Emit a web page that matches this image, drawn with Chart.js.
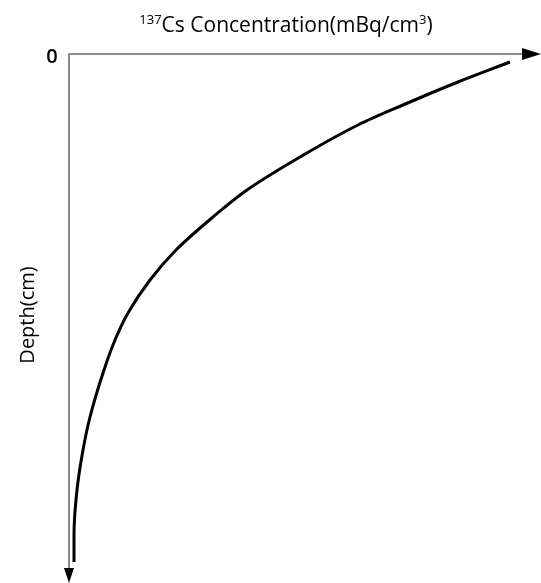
<!DOCTYPE html>
<html>
<head>
<meta charset="utf-8">
<script src="https://cdn.jsdelivr.net/npm/chart.js@4.4.0/dist/chart.umd.min.js"></script>
<style>
  html, body { margin: 0; padding: 0; background: #fff; }
  #wrap { width: 541px; height: 583px; position: relative; }
</style>
</head>
<body>
<div id="wrap"><canvas id="c"></canvas></div>
<script>
// values (arbitrary units, depth grows downward)
const concentration = [441, 389, 334, 289, 231, 178, 144, 107, 81, 59, 46, 35, 21, 14, 8, 5, 5];
const depth = [8, 28, 51, 71, 103, 136, 163, 196, 226, 259, 286, 316, 363, 396, 436, 481, 508];
const originLabel = '0';
const yTitle = 'Depth(cm)';

const xMax = 472;
const yMax = 529;

const points = concentration.map((v, i) => ({ x: v, y: depth[i] }));

const font = '"Open Sans", Lato, sans-serif';

const axesPlugin = {
  id: 'axes',
  afterDraw(chart) {
    const ctx = chart.ctx;
    const a = chart.chartArea;
    ctx.save();

    // axis lines
    ctx.strokeStyle = '#6a6a6a';
    ctx.lineWidth = 1.6;
    ctx.beginPath();
    ctx.moveTo(a.left, a.bottom - 12);
    ctx.lineTo(a.left, a.top);
    ctx.lineTo(a.right - 16, a.top);
    ctx.stroke();

    // arrow heads
    ctx.fillStyle = '#000';
    ctx.beginPath();
    ctx.moveTo(a.right, a.top);
    ctx.lineTo(a.right - 19, a.top - 6);
    ctx.lineTo(a.right - 19, a.top + 6);
    ctx.closePath();
    ctx.fill();
    ctx.beginPath();
    ctx.moveTo(a.left, a.bottom);
    ctx.lineTo(a.left - 5, a.bottom - 15);
    ctx.lineTo(a.left + 5, a.bottom - 15);
    ctx.closePath();
    ctx.fill();

    // origin label
    ctx.fillStyle = '#000';
    ctx.font = '600 20px ' + font;
    ctx.textAlign = 'center';
    ctx.textBaseline = 'middle';
    ctx.fillText(originLabel, a.left - 17, a.top + 3);

    // top title with superscripts
    const big = '21px ' + font;
    const small = '13px ' + font;
    const parts = [
      { t: '137', f: small, dy: -6 },
      { t: 'Cs Concentration(mBq/cm', f: big, dy: 0 },
      { t: '3', f: small, dy: -6 },
      { t: ')', f: big, dy: 0 }
    ];
    let w = 0;
    parts.forEach(p => { ctx.font = p.f; p.w = ctx.measureText(p.t).width; w += p.w; });
    let x = 286 - w / 2;
    const y = 26;
    ctx.textAlign = 'left';
    ctx.textBaseline = 'middle';
    parts.forEach(p => {
      ctx.font = p.f;
      ctx.fillText(p.t, x, y + p.dy);
      x += p.w;
    });

    // y title, rotated
    ctx.font = '20px ' + font;
    ctx.translate(28, 315);
    ctx.rotate(-Math.PI / 2);
    ctx.textAlign = 'center';
    ctx.fillText(yTitle, 0, 0);

    ctx.restore();
  }
};

new Chart(document.getElementById('c'), {
  type: 'line',
  data: {
    datasets: [{
      data: points,
      borderColor: '#000',
      borderWidth: 3,
      pointRadius: 0,
      fill: false,
      cubicInterpolationMode: 'monotone'
    }]
  },
  options: {
    indexAxis: 'y',
    responsive: true,
    maintainAspectRatio: false,
    animation: false,
    layout: { padding: { left: 69, top: 54, right: 0, bottom: 0 } },
    plugins: {
      legend: { display: false },
      tooltip: { enabled: false }
    },
    scales: {
      x: { type: 'linear', display: false, min: 0, max: xMax },
      y: { type: 'linear', display: false, min: 0, max: yMax, reverse: true }
    }
  },
  plugins: [axesPlugin]
});
</script>
</body>
</html>
